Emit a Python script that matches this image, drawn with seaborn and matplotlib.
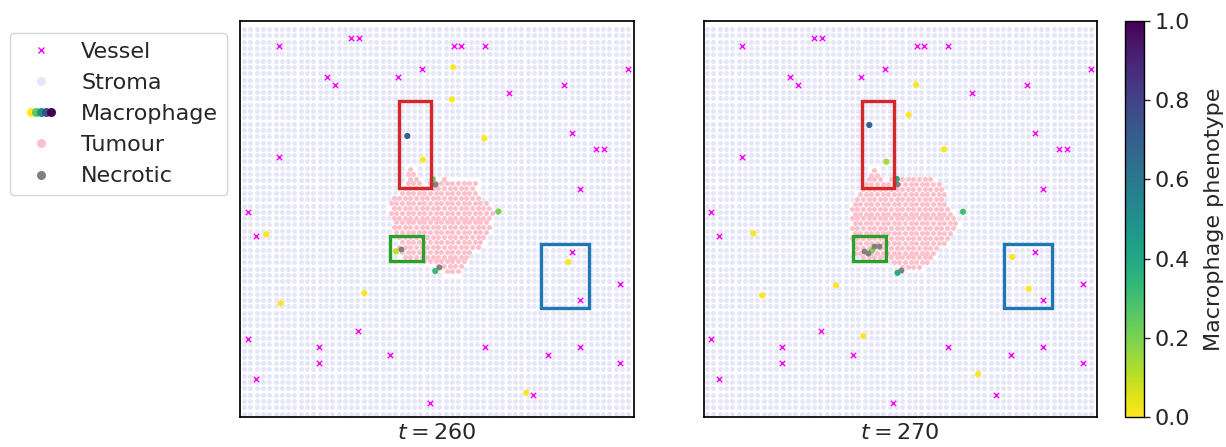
import numpy as np
import pandas as pd
import matplotlib
matplotlib.use("Agg")
import matplotlib.pyplot as plt
from matplotlib.path import Path
from matplotlib.patches import Rectangle
from matplotlib.lines import Line2D
from matplotlib.legend_handler import HandlerTuple
from matplotlib.colors import Normalize
import seaborn as sns

# ---------------------------------------------------------------- data
DOMAIN_W, DOMAIN_H = 393.0, 396.0
STROMA_SPACING = 6.3
TUMOUR_SPACING = 5.6

times = [260, 270]

# blood vessels (static between snapshots)
vessel_x = [38.8, 110.5, 118.2, 86.5, 94.5, 157.8, 181.5, 38.8, 7.5, 213.2,
            220.8, 244.8, 387.5, 268.5, 323.8, 331.8, 355.5, 363.5, 339.8, 15.2,
            7.5, 78.5, 78.5, 117.8, 149.8, 15.2, 189.2, 331.8, 339.8, 379.5,
            244.8, 307.8, 339.8, 379.5, 292.5]
vessel_y = [371.3, 379.3, 379.3, 339.7, 331.7, 339.7, 347.7, 260.0, 204.5, 371.3,
            371.3, 371.3, 347.7, 323.7, 331.7, 284.0, 268.0, 268.0, 228.3, 180.7,
            77.7, 69.7, 53.7, 85.7, 61.7, 37.7, 13.7, 164.7, 117.0, 133.0,
            69.7, 61.7, 69.7, 53.7, 22.0]

# macrophages at t = 260
mac_x_260 = [166.8, 182.5, 192.2, 212.5, 211.5, 243.8, 257.8, 155.5, 194.8,
             25.8, 40.2, 123.8, 327.8, 285.8]
mac_y_260 = [281.0, 257.3, 237.7, 349.7, 317.7, 278.7, 205.5, 165.7, 146.0,
             182.7, 113.7, 124.0, 155.0, 24.3]
mac_phen_260 = [0.70, 0.0, 0.25, 0.0, 0.0, 0.0, 0.20, 0.10, 0.32,
                0.0, 0.0, 0.0, 0.0, 0.0]

# macrophages at t = 270
mac_x_270 = [165.8, 182.8, 193.2, 212.5, 205.2, 240.5, 259.5, 168.5, 194.0,
             49.8, 58.8, 132.5, 159.8, 308.8, 325.2, 274.5]
mac_y_270 = [292.0, 255.3, 238.0, 332.3, 302.0, 267.7, 205.3, 166.7, 144.2,
             183.7, 121.7, 131.7, 81.0, 160.0, 128.3, 43.0]
mac_phen_270 = [0.68, 0.13, 0.40, 0.0, 0.0, 0.0, 0.30, 0.20, 0.38,
                0.0, 0.0, 0.0, 0.0, 0.0, 0.0, 0.0]

# necrotic cells
nec_x_260 = [194.2, 160.5, 198.2]
nec_y_260 = [233.3, 168.3, 150.0]
nec_x_270 = [193.8, 170.2, 175.2, 160.5, 164.2, 197.5]
nec_y_270 = [233.3, 171.0, 171.0, 165.7, 163.7, 147.0]

# tumour boundary
tumour_x_260 = [184.5, 199.5, 214.5, 234.5, 238.0, 246.5, 252.5, 250.5, 245.5,
                234.5, 224.5, 219.5, 206.5, 199.5, 184.5, 164.5, 157.5, 155.5,
                147.5, 149.5, 159.5, 165.0, 168.0, 175.0, 178.0]
tumour_y_260 = [232.0, 239.0, 237.0, 235.0, 224.0, 214.0, 207.0, 192.0, 179.0,
                167.0, 155.0, 143.0, 141.0, 149.0, 155.0, 157.0, 167.0, 182.0,
                202.0, 217.0, 224.0, 240.0, 251.0, 249.0, 236.0]
tumour_x_270 = [176.5, 186.5, 196.5, 216.5, 234.5, 241.5, 251.5, 253.5, 244.5,
                231.5, 221.5, 211.5, 201.5, 186.5, 166.5, 151.5, 148.5, 145.5,
                148.5, 158.5, 166.5, 169.5, 176.0, 179.0]
tumour_y_270 = [232.0, 239.0, 240.0, 239.0, 237.0, 222.0, 202.0, 189.0, 177.0,
                162.0, 152.0, 145.0, 147.0, 155.0, 155.0, 162.0, 177.0, 197.0,
                217.0, 229.0, 242.0, 252.0, 248.0, 236.0]

# highlighted regions (x0, x1, y0, y1)
region_names = ["red", "green", "blue"]
region_x0 = [158.0, 149.5, 300.5]
region_x1 = [190.5, 182.5, 348.5]
region_y0 = [229.0, 156.3, 109.0]
region_y1 = [316.0, 181.0, 173.3]

snapshots = {
    260: dict(mx=mac_x_260, my=mac_y_260, mp=mac_phen_260,
              nx=nec_x_260, ny=nec_y_260, tx=tumour_x_260, ty=tumour_y_260),
    270: dict(mx=mac_x_270, my=mac_y_270, mp=mac_phen_270,
              nx=nec_x_270, ny=nec_y_270, tx=tumour_x_270, ty=tumour_y_270),
}

VESSEL_C = "#ff00ff"
STROMA_C = "lavender"
TUMOUR_C = "pink"
NECROTIC_C = "grey"
CMAP = "viridis_r"
FS = 16


def tumour_cells(bx, by):
    """Pack tumour cells on a hexagonal lattice inside the boundary."""
    path = Path(np.column_stack([bx, by]))
    pts = []
    row = 0
    yy = min(by)
    while yy <= max(by):
        off = (row % 2) * TUMOUR_SPACING / 2
        xs = np.arange(min(bx) + off, max(bx), TUMOUR_SPACING)
        pts.extend([(x, yy) for x in xs])
        yy += TUMOUR_SPACING * 0.87
        row += 1
    pts = np.array(pts)
    return pts[path.contains_points(pts)]


def stroma_cells(tumour):
    gx = np.arange(3.5, DOMAIN_W - 2, STROMA_SPACING)
    gy = np.arange(3.5, DOMAIN_H - 2, STROMA_SPACING)
    X, Y = np.meshgrid(gx, gy)
    pts = np.column_stack([X.ravel(), Y.ravel()])
    d = np.sqrt(((pts[:, None, :] - tumour[None, :, :]) ** 2).sum(-1)).min(1)
    return pts[d > 4.0]


# ---------------------------------------------------------------- figure
sns.set_theme(style="white")
plt.rcParams["font.family"] = ["DejaVu Sans"]
plt.rcParams["font.size"] = FS

fig = plt.figure(figsize=(12.26, 4.47), dpi=100)
panel_lefts = [240.5, 703.5]
region_colors = ["tab:red", "tab:green", "tab:blue"]

vessels = pd.DataFrame({"x": vessel_x, "y": vessel_y})

for left, t in zip(panel_lefts, times):
    snap = snapshots[t]
    ax = fig.add_axes([left / 1226, 30 / 447, 393 / 1226, 396 / 447])
    tum = tumour_cells(snap["tx"], snap["ty"])
    stroma = stroma_cells(tum)

    sns.scatterplot(x=stroma[:, 0], y=stroma[:, 1], ax=ax, color=STROMA_C,
                    s=13, linewidth=0, zorder=1)
    sns.scatterplot(x=tum[:, 0], y=tum[:, 1], ax=ax, color=TUMOUR_C,
                    s=13, linewidth=0, zorder=2)
    sns.scatterplot(data=vessels, x="x", y="y", ax=ax, color=VESSEL_C,
                    marker="x", s=15, linewidth=1.0, zorder=3)
    macs = pd.DataFrame({"x": snap["mx"], "y": snap["my"], "p": snap["mp"]})
    sns.scatterplot(data=macs, x="x", y="y", hue="p", palette=CMAP,
                    hue_norm=(0, 1), ax=ax, s=20, linewidth=0,
                    legend=False, zorder=4)
    nec = pd.DataFrame({"x": snap["nx"], "y": snap["ny"]})
    sns.scatterplot(data=nec, x="x", y="y", ax=ax, color=NECROTIC_C,
                    s=18, linewidth=0, zorder=5)

    for c, x0, x1, y0, y1 in zip(region_colors, region_x0, region_x1,
                                 region_y0, region_y1):
        ax.add_patch(Rectangle((x0, y0), x1 - x0, y1 - y0, fill=False,
                               edgecolor=c, linewidth=2.4, zorder=6))

    ax.set_xlim(0, DOMAIN_W)
    ax.set_ylim(0, DOMAIN_H)
    ax.set_xticks([])
    ax.set_yticks([])
    ax.set_ylabel("")
    ax.set_xlabel(f"$t = {t}$", fontsize=FS, labelpad=4)
    for sp in ax.spines.values():
        sp.set_color("black")
        sp.set_linewidth(1.25)

# colour bar
cax = fig.add_axes([1125 / 1226, 30 / 447, 19 / 1226, 396 / 447])
sm = plt.cm.ScalarMappable(norm=Normalize(0, 1), cmap=CMAP)
cb = fig.colorbar(sm, cax=cax)
cb.set_ticks([0, 0.2, 0.4, 0.6, 0.8, 1.0])
cb.ax.tick_params(labelsize=FS, length=4, width=1, direction="out")
cb.set_label("Macrophage phenotype", fontsize=FS, labelpad=10)
cb.outline.set_edgecolor("black")
cb.outline.set_linewidth(1.0)

# legend
cmap = plt.get_cmap(CMAP)
mac_handles = tuple(
    Line2D([], [], linestyle="", marker="o", markersize=6.5,
           markerfacecolor=cmap(v), markeredgewidth=0)
    for v in [0.0, 0.25, 0.5, 0.75, 1.0])
handles = [
    Line2D([], [], linestyle="", marker="x", markersize=5,
           color=VESSEL_C, markeredgewidth=1.0),
    Line2D([], [], linestyle="", marker="o", markersize=6.5,
           markerfacecolor=STROMA_C, markeredgewidth=0),
    mac_handles,
    Line2D([], [], linestyle="", marker="o", markersize=6.5,
           markerfacecolor=TUMOUR_C, markeredgewidth=0),
    Line2D([], [], linestyle="", marker="o", markersize=6.5,
           markerfacecolor=NECROTIC_C, markeredgewidth=0),
]
labels = ["Vessel", "Stroma", "Macrophage", "Tumour", "Necrotic"]
fig.legend(handles, labels, loc="upper left",
           bbox_to_anchor=(10 / 1226, 1 - 33 / 447), borderaxespad=0,
           fontsize=FS, frameon=True, edgecolor="0.8", framealpha=0.8,
           fancybox=True,
           handler_map={tuple: HandlerTuple(ndivide=None, pad=-0.86)})

fig.savefig("out.png", dpi=100)
